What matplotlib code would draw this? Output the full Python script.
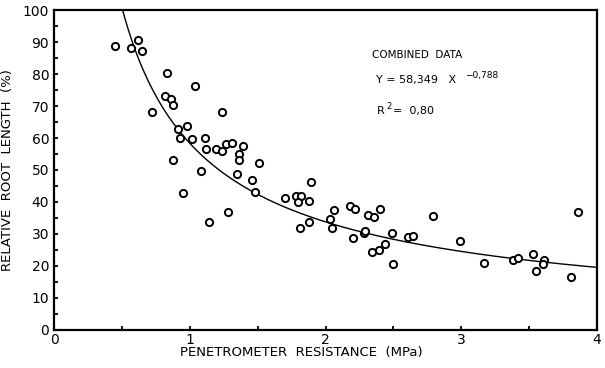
import numpy as np
import matplotlib
matplotlib.use('Agg')
import matplotlib.pyplot as plt

# penetrometer resistance (MPa) vs relative root length (%)
resistance = [0.45, 0.57, 0.62, 0.646, 0.83, 1.04, 0.82, 0.86, 0.88, 0.72,
              1.24, 0.98, 0.91, 0.93, 1.02, 1.11, 1.12, 1.19, 1.24, 1.265,
              1.31, 1.39, 1.36, 1.36, 0.88, 1.08, 1.35, 0.95, 1.51, 1.46,
              1.48, 1.70, 1.285, 1.14, 1.89, 1.78, 1.82, 1.80, 1.88, 1.81,
              1.88, 2.06, 2.03, 2.05, 2.18, 2.215, 2.205, 2.28, 2.29, 2.31,
              2.36, 2.40, 2.345, 2.395, 2.44, 2.49, 2.50, 2.61, 2.645, 2.79,
              2.99, 3.17, 3.38, 3.42, 3.53, 3.61, 3.60, 3.55, 3.81, 3.86]
root_length = [88.8, 88.0, 90.6, 87.3, 80.4, 76.2, 73.1, 72.1, 70.4, 68.1,
               68.1, 63.7, 62.8, 60.1, 59.7, 59.9, 56.7, 56.7, 55.9, 58.1,
               58.5, 57.5, 55.1, 53.1, 53.2, 49.6, 48.9, 42.9, 52.1, 46.9,
               43.0, 41.2, 36.8, 33.9, 46.4, 42.0, 42.0, 39.9, 40.3, 31.8,
               33.9, 37.5, 34.7, 31.8, 38.9, 37.7, 28.75, 30.4, 30.9, 36.0,
               35.4, 37.8, 24.3, 25.0, 26.8, 30.2, 20.7, 29.0, 29.4, 35.7,
               27.8, 20.9, 21.9, 22.6, 23.9, 21.9, 20.6, 18.4, 16.7, 36.8]

# fitted curve Y = 58.349 X^-0.788
coef_a = 58.349
coef_b = -0.788

fig = plt.figure(figsize=(6.05, 3.68), dpi=100)
ax = fig.add_axes([0.0893, 0.1033, 0.8975, 0.8695])

xs = np.linspace(0.45, 4.0, 400)
ax.plot(xs, coef_a * xs ** coef_b, color='black', lw=1.0)
ax.plot(resistance, root_length, 'o', ms=5.2, mfc='white', mec='black', mew=1.4)

ax.set_xlim(0, 4)
ax.set_ylim(0, 100)
ax.set_xticks([0, 1, 2, 3, 4])
ax.set_xticks(np.arange(0, 4.01, 0.5), minor=True)
ax.set_yticks(np.arange(0, 101, 10))
ax.set_yticks(np.arange(0, 101, 5), minor=True)
ax.tick_params(which='both', direction='in', length=3, width=1.3, labelsize=10)
ax.tick_params(axis='x', pad=2)
for s in ax.spines.values():
    s.set_linewidth(1.6)

ax.set_xlabel('PENETROMETER  RESISTANCE  (MPa)', fontsize=9.5)
ax.xaxis.set_label_coords(0.455, -0.05)
ax.set_ylabel('RELATIVE  ROOT  LENGTH  (%)', fontsize=9.5, labelpad=6)

# equation box text
ax.text(2.34, 86, 'COMBINED  DATA', fontsize=7.5, va='center')
ax.text(2.37, 78, 'Y = 58,349   X', fontsize=8, va='center')
ax.text(3.03, 79.6, '\u22120,788', fontsize=6.5, va='center')
ax.text(2.38, 68.5, 'R', fontsize=8, va='center')
ax.text(2.445, 69.8, '2', fontsize=6, va='center')
ax.text(2.50, 68.5, '=  0,80', fontsize=8, va='center')

fig.savefig('out.png', dpi=100)
